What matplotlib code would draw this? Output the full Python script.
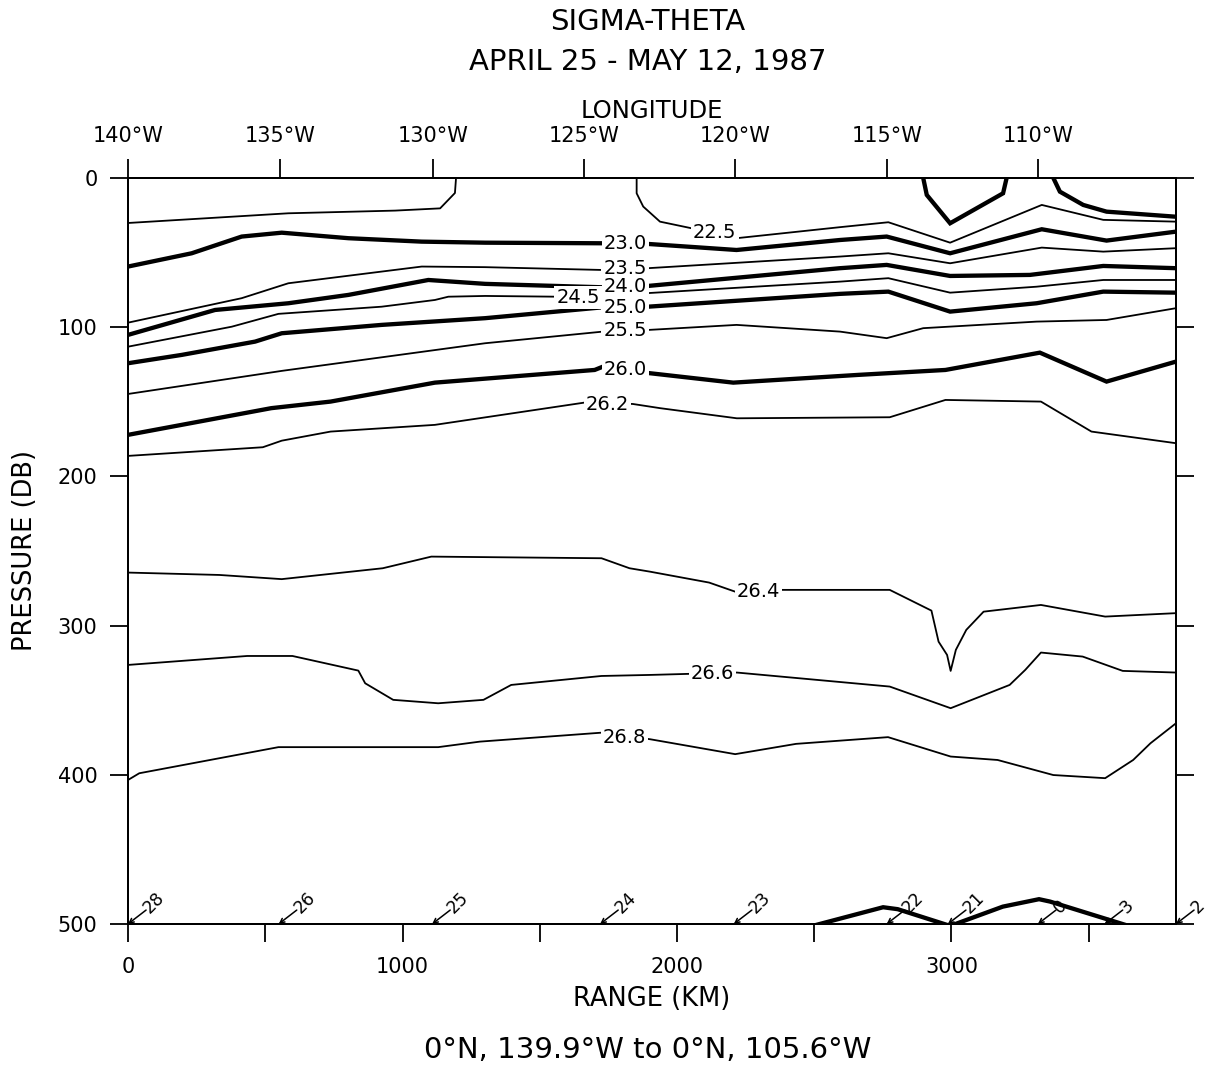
import matplotlib.pyplot as plt

plt.rcParams['font.family'] = ['DejaVu Sans']

# isolines of sigma-theta: range (km) and pressure (db)
s220a_km = [2897, 2910, 2995, 3188, 3201]
s220a_db = [0, 11.4, 30.4, 10.3, 0]
s220b_km = [3371, 3395, 3480, 3565, 3818]
s220b_db = [0, 9.2, 18.1, 22.6, 26.0]

s225a_km = [0, 584, 973, 1137, 1191, 1195]
s225a_db = [30.2, 23.7, 21.9, 20.4, 10.1, 0]
s225b_km = [1853, 1853, 1877, 1938, 2047, 2217, 2594, 2770, 2995, 3329, 3553, 3818]
s225b_db = [0, 10.3, 19.2, 29.3, 33.5, 40.4, 33.0, 29.7, 43.4, 18.1, 28.1, 29.3]

s230_km = [0, 232, 414, 560, 803, 1070, 1301, 1730, 1891, 2217, 2594, 2764, 2995, 3329, 3565, 3818]
s230_db = [59.4, 50.5, 39.3, 36.7, 40.4, 42.7, 43.4, 43.8, 44.2, 48.3, 41.6, 39.3, 50.5, 34.4, 42.0, 36.0]

s235_km = [0, 414, 584, 1070, 1301, 1730, 1894, 2594, 2770, 2995, 3329, 3553, 3818]
s235_db = [97.0, 80.6, 70.6, 59.4, 59.8, 61.7, 60.5, 52.7, 50.5, 57.2, 46.7, 49.4, 47.1]

s240_km = [0, 317, 584, 803, 1094, 1301, 1428, 1730, 1894, 2594, 2764, 2995, 3286, 3553, 3818]
s240_db = [105.2, 88.5, 84.0, 78.4, 68.4, 71.0, 71.7, 73.3, 72.4, 60.5, 58.3, 65.7, 65.0, 59.0, 60.5]

s245_km = [0, 378, 548, 924, 1118, 1167, 1301, 1562, 1720, 2594, 2770, 2995, 3310, 3553, 3818]
s245_db = [113.1, 99.7, 91.1, 86.3, 81.8, 79.6, 79.1, 79.6, 79.1, 69.5, 67.2, 76.9, 72.9, 68.4, 68.4]

s250_km = [0, 196, 463, 560, 924, 1301, 1730, 1894, 2594, 2770, 2995, 3310, 3553, 3818]
s250_db = [124.2, 118.6, 109.7, 104.1, 98.5, 94.0, 86.7, 86.3, 77.7, 76.2, 89.6, 84.0, 76.2, 76.9]

s255_km = [0, 561, 1301, 1730, 1894, 2217, 2594, 2764, 2897, 3310, 3565, 3818]
s255_db = [144.8, 129.3, 110.8, 103.0, 101.9, 98.5, 103.0, 107.4, 100.7, 96.3, 95.2, 87.3]

s260_km = [0, 522, 738, 1118, 1700, 1730, 1902, 2205, 2661, 2978, 3322, 3565, 3818]
s260_db = [172.2, 154.3, 149.9, 137.2, 128.7, 126.5, 130.9, 137.2, 132.0, 128.7, 117.1, 136.5, 123.1]

s262_km = [0, 491, 560, 738, 1118, 1662, 1839, 1938, 2218, 2775, 2978, 3326, 3510, 3818]
s262_db = [186.3, 180.5, 176.1, 170.0, 165.5, 150.6, 151.5, 154.3, 161.1, 160.4, 148.8, 149.9, 170.0, 177.8]

s264_km = [0, 333, 560, 928, 1105, 1725, 1827, 1902, 2117, 2212, 2383, 2775, 2927, 2953,
           2984, 2997, 3016, 3054, 3117, 3326, 3560, 3818]
s264_db = [264.5, 266.1, 268.9, 261.6, 253.8, 254.9, 261.6, 263.9, 271.2, 277.3, 276.1, 276.1,
           290.0, 310.8, 319.7, 330.4, 316.3, 302.9, 290.7, 286.2, 294.0, 291.7]

s266_km = [0, 434, 599, 839, 864, 966, 1130, 1295, 1396, 1725, 1902, 2218, 2775, 2997,
           3212, 3269, 3326, 3478, 3624, 3818]
s266_db = [326.4, 320.4, 320.4, 330.2, 338.7, 349.8, 352.1, 349.8, 339.8, 333.8, 333.1, 331.5,
           340.9, 355.4, 339.8, 329.7, 318.1, 320.8, 330.4, 331.5]

s268_km = [0, 41, 548, 1130, 1282, 1725, 1902, 2212, 2434, 2769, 2997, 3168, 3371, 3560,
           3662, 3725, 3818]
s268_db = [403.5, 399.0, 381.5, 381.5, 377.8, 371.8, 376.2, 386.2, 379.3, 374.8, 387.8, 390.1,
           400.2, 402.3, 390.1, 378.9, 365.5]

s270a_km = [2500, 2751, 2804, 2990]
s270a_db = [501.0, 488.8, 490.1, 501.0]
s270b_km = [3000, 3187, 3319, 3359, 3640]
s270b_db = [501.0, 488.4, 483.4, 485.0, 501.0]

# contour labels: text, range (km), pressure (db)
clab_txt = ['22.5', '23.0', '23.5', '24.0', '24.5', '25.0', '25.5', '26.0', '26.2', '26.4', '26.6', '26.8']
clab_km = [2138, 1811, 1811, 1811, 1640, 1811, 1811, 1811, 1747, 2297, 2130, 1808]
clab_db = [36.9, 44.2, 60.5, 72.8, 80.0, 86.7, 102.3, 128.7, 152.1, 277.3, 332.4, 374.8]

# stations along the section
station_km = [0, 549, 1108, 1720, 2207, 2764, 2987, 3315, 3558, 3818]
station_lbl = ['28', '26', '25', '24', '23', '22', '21', '0', '3', '2']

# longitude axis (top)
lon_km = [0, 553, 1111, 1663, 2210, 2764, 3315]
lon_lbl = ['140°W', '135°W', '130°W', '125°W', '120°W', '115°W', '110°W']

thick = [(s220a_km, s220a_db), (s220b_km, s220b_db), (s230_km, s230_db), (s240_km, s240_db),
         (s250_km, s250_db), (s260_km, s260_db), (s270a_km, s270a_db), (s270b_km, s270b_db)]
thin = [(s225a_km, s225a_db), (s225b_km, s225b_db), (s235_km, s235_db), (s245_km, s245_db),
        (s255_km, s255_db), (s262_km, s262_db), (s264_km, s264_db), (s266_km, s266_db),
        (s268_km, s268_db)]

fig = plt.figure(figsize=(12.09, 10.79), dpi=100)
ax = fig.add_axes([0.1059, 0.1437, 0.8668, 0.6914])

for km, db in thick:
    ax.plot(km, db, color='black', lw=3.1, solid_joinstyle='miter', zorder=3)
for km, db in thin:
    ax.plot(km, db, color='black', lw=1.3, zorder=3)

for t, km, db in zip(clab_txt, clab_km, clab_db):
    ax.text(km, db, t, ha='center', va='center', fontsize=14, zorder=5,
            bbox=dict(boxstyle='square,pad=0.1', fc='white', ec='none'))

for km, lbl in zip(station_km, station_lbl):
    ax.annotate('', xy=(km, 500), xytext=(13, 10), textcoords='offset points',
                arrowprops=dict(arrowstyle='->', lw=1.1, shrinkA=0, shrinkB=0, mutation_scale=8),
                annotation_clip=False, zorder=4)
    ax.annotate(lbl, xy=(km, 500), xytext=(13, 10), textcoords='offset points',
                rotation=45, rotation_mode='anchor', ha='left', va='center',
                fontsize=12.5, annotation_clip=False, zorder=4)

ax.set_xlim(0, 3818)
ax.set_ylim(500, 0)
ax.set_xticks([0, 1000, 2000, 3000])
ax.set_xticks([500, 1500, 2500, 3500], minor=True)
ax.set_yticks([0, 100, 200, 300, 400, 500])
ax.tick_params(axis='x', which='both', direction='out', length=13, width=1.3,
               labelsize=15, pad=11)
ax.tick_params(axis='y', which='both', direction='out', length=13, width=1.3,
               left=True, right=True, labelsize=15, pad=9)
for sp in ax.spines.values():
    sp.set_linewidth(1.4)

ax2 = ax.twiny()
ax2.set_xlim(ax.get_xlim())
ax2.set_xticks(lon_km)
ax2.set_xticklabels(lon_lbl)
ax2.tick_params(axis='x', direction='out', length=14, width=1.3, labelsize=15, pad=9)
for sp in ax2.spines.values():
    sp.set_linewidth(1.4)

ax.set_xlabel('RANGE (KM)', fontsize=18.5, labelpad=6)
ax.set_ylabel('PRESSURE (DB)', fontsize=18.5, labelpad=14)
ax2.set_xlabel('LONGITUDE', fontsize=17.5, labelpad=6)

fig.text(0.536, 0.9796, 'SIGMA-THETA', ha='center', va='center', fontsize=21)
fig.text(0.536, 0.9425, 'APRIL 25 - MAY 12, 1987', ha='center', va='center', fontsize=21)
fig.text(0.536, 0.027, '0°N, 139.9°W to 0°N, 105.6°W', ha='center', va='center', fontsize=21)

fig.savefig('out.png', dpi=100)
